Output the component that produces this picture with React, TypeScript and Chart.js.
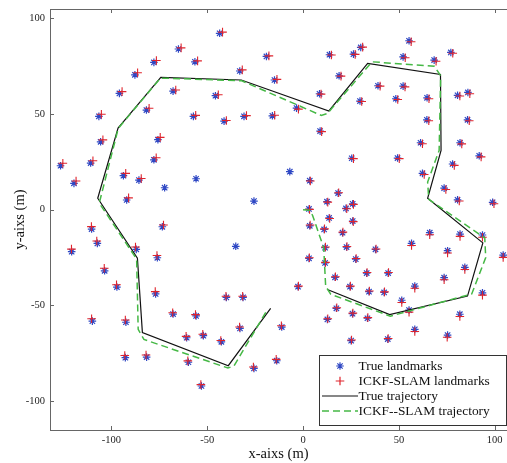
import React, { useEffect, useRef } from "react";
import { Chart, registerables } from "chart.js";

Chart.register(...registerables);

// ---- data ----
const trueLmX = [
  -77.8, -87.7, -95.8, -81.7, -106.5, -75.7, -105.6, -77.8, -126.5, -110.8, -119.5, -93.7, -85.6, -72.2, -92.0, -73.4,
  -43.5, -65.0, -56.4, -19.1, -33.0, -14.9, -67.8, -45.7, -57.2, -41.2, -30.8, -16.0, -55.8, -25.6,
  13.8, 26.3, 30.1, 18.8, 8.6, -3.4, 29.7, 39.1, 48.4, 8.9, 25.4, 49.3, -6.9, 3.5, 18.3, 12.5, 25.9, 3.1, 22.4, 13.6, 25.9,
  55.3, 52.2, 68.4, 77.1, 52.2, 64.7, 80.6, 86.0, 64.6, 85.8, 61.3, 81.9, 91.9, 78.0, 62.3, 73.6, 80.6, 98.9,
  -110.3, -107.3, -120.7, -87.0, -76.0, -103.5, -97.1, -76.9, -109.9, -92.4, -92.7, -81.6,
  -35.1, -40.0, -31.3, -67.8, -55.8, -32.9, -11.1, -60.7, -52.0, -42.6, -59.8, -25.6, -13.7, -53.0,
  3.5, 11.0, 20.6, 11.5, 22.7, 37.8, 3.1, 11.5, 27.5, 33.2, 44.4, 16.7, -2.6, 24.5, 34.4, 42.3, 17.4, 25.8, 12.7, 33.6, 25.1, 44.2,
  66.1, 81.9, 56.6, 93.6, 104.4, 75.4, 84.4, 73.6, 58.3, 51.5, 55.3, 93.6, 81.8, 58.3, 75.4,
];
const trueLmY = [
  77.0, 70.5, 60.8, 52.1, 48.8, 36.6, 35.5, 26.1, 23.0, 24.4, 13.8, 17.8, 15.5, 11.5, 5.1, -8.9,
  92.2, 84.0, 77.3, 80.1, 72.5, 67.8, 62.0, 59.6, 48.8, 46.3, 48.8, 49.1, 16.2, 4.5,
  81.0, 81.3, 84.8, 70.0, 60.6, 53.1, 56.8, 64.8, 58.0, 41.1, 26.9, 27.0, 19.9, 15.2, 8.7, 4.2, 3.1, 0.4, 0.7, -4.3, -5.9,
  88.3, 79.9, 78.2, 82.2, 64.6, 58.5, 59.8, 61.3, 47.0, 47.0, 35.0, 35.0, 28.2, 23.9, 19.0, 11.3, 5.2, 3.9,
  -10.1, -17.6, -21.9, -20.7, -25.1, -31.9, -40.4, -44.0, -58.2, -58.8, -77.3, -77.0,
  -19.1, -45.8, -45.8, -54.5, -55.5, -62.0, -61.3, -66.9, -65.8, -69.0, -79.7, -82.9, -78.9, -92.1,
  -8.4, -10.3, -12.0, -19.8, -19.5, -20.7, -25.4, -27.8, -25.8, -33.1, -33.1, -35.3, -40.2, -40.2, -42.8, -43.2, -51.5, -54.3, -57.3, -56.7, -68.4, -67.6,
  -12.0, -12.7, -17.6, -13.2, -23.7, -21.4, -30.1, -35.5, -39.9, -47.3, -52.4, -43.4, -54.6, -62.5, -65.5,
];
const estLmX = [
  -76.5, -86.3, -94.4, -80.3, -105.2, -74.5, -104.4, -76.6, -125.3, -109.6, -118.4, -92.5, -84.4, -91.0, -72.8,
  -42.0, -63.6, -55.0, -17.8, -31.7, -13.6, -66.4, -44.2, -56.0, -40.0, -29.5, -14.8,
  14.8, 27.2, 31.1, 19.8, 9.4, -2.4, 30.6, 40.2, 49.4, 9.7, 26.3, 50.2, 3.8, 18.6, 12.9, 26.3, 3.4, 22.8, 13.9, 26.2,
  56.4, 53.3, 69.4, 78.1, 53.2, 65.7, 81.8, 87.0, 65.6, 86.7, 62.3, 82.8, 92.9, 78.9, 63.2, 74.5, 81.5, 99.6,
  -110.4, -107.6, -120.8, -87.4, -76.2, -103.7, -97.3, -77.1, -110.3, -92.7, -93.0, -81.9,
  -40.2, -31.5, -68.0, -56.1, -33.1, -11.3, -61.0, -52.3, -42.9, -60.1, -25.9, -14.0, -53.3,
  3.7, 11.2, 20.8, 11.7, 22.9, 38.1, 3.3, 11.7, 27.7, 33.4, 44.6, 16.9, -2.4, 24.7, 34.6, 42.5, 17.6, 26.0, 12.9, 33.8, 25.3, 44.4,
  66.1, 81.9, 56.6, 93.6, 104.4, 75.4, 84.4, 73.6, 58.3, 51.5, 55.3, 93.6, 81.8, 58.3, 75.2,
];
const estLmY = [
  78.0, 71.6, 61.7, 53.0, 49.9, 37.8, 36.5, 27.2, 24.3, 25.6, 15.0, 19.0, 16.3, 6.2, -8.0,
  92.8, 84.6, 77.8, 80.4, 73.1, 68.1, 62.6, 60.1, 49.3, 46.6, 49.2, 49.4,
  80.9, 81.2, 85.0, 69.8, 60.4, 52.6, 56.6, 64.6, 57.6, 40.8, 26.7, 26.7, 15.0, 8.9, 4.0, 2.8, 0.2, 0.5, -4.6, -6.2,
  87.8, 79.4, 77.6, 81.8, 64.2, 58.0, 59.4, 60.6, 46.5, 46.5, 34.5, 34.4, 27.6, 23.2, 18.4, 10.6, 4.6, 3.1,
  -8.8, -16.3, -20.6, -19.5, -23.9, -30.6, -39.2, -42.8, -57.0, -57.6, -76.2, -75.9,
  -45.2, -45.2, -53.8, -54.8, -61.3, -60.6, -66.2, -65.1, -68.3, -79.0, -82.2, -78.2, -91.4,
  -8.0, -10.0, -11.7, -19.5, -19.2, -20.5, -25.1, -27.5, -25.5, -32.8, -32.8, -35.0, -39.9, -39.9, -42.5, -42.9, -51.2, -54.0, -57.0, -56.4, -68.1, -67.3,
  -13.1, -13.9, -18.7, -14.4, -24.9, -22.6, -31.2, -36.6, -41.0, -48.5, -53.5, -44.6, -55.8, -63.6, -66.6,
];
const trueTrajX = [13.0, 45.2, 85.8, 93.8, 65.0, 72.0, 71.7, 33.7, 13.5, -32.2, -74.2, -96.5, -107.1, -86.4, -83.8, -39.0, -16.9];
const trueTrajY = [-41.8, -54.8, -45.1, -17.3, 6.0, 31.0, 70.7, 76.5, 51.6, 67.8, 69.2, 42.7, 6.0, -25.3, -64.2, -81.5, -51.5];
const estTrajX = [0.0, 3.5, 5.0, 10.8, 11.8, 14.5, 45.5, 88.0, 95.3, 94.8, 65.6, 65.0, 71.0, 71.8, 68.5, 36.0, 12.7, 9.5, -32.0, -74.4, -96.4, -106.3, -86.8, -86.0, -83.0, -39.2, -36.0, -19.4];
const estTrajY = [0.0, -0.3, -3.0, -20.0, -40.0, -44.2, -55.6, -44.0, -25.0, -14.8, 5.4, 14.5, 31.0, 70.0, 75.0, 77.3, 50.3, 49.3, 67.4, 68.8, 42.5, 3.5, -25.8, -62.5, -67.8, -82.7, -81.6, -53.5];

const xTicks = [-100, -50, 0, 50, 100];
const yTicks = [-100, -50, 0, 50, 100];
const seriesLabels = ["True landmarks", "ICKF-SLAM landmarks", "True trajectory", "ICKF--SLAM trajectory"];
const xTitle = "x-aixs (m)";
const yTitle = "y-aixs (m)";

const BLUE = "#2f48c4";
const RED = "#e0242c";
const GREEN = "#45b845";
const AXIS = "#666666";
const SERIF = '"Liberation Serif", "DejaVu Serif", serif';

const zip = (xs: number[], ys: number[]) => xs.map((x, i) => ({ x, y: ys[i] }));

function drawStar(ctx: CanvasRenderingContext2D, x: number, y: number, r: number) {
  ctx.beginPath();
  for (let k = 0; k < 4; k++) {
    const a = (k * Math.PI) / 4;
    ctx.moveTo(x - r * Math.cos(a), y - r * Math.sin(a));
    ctx.lineTo(x + r * Math.cos(a), y + r * Math.sin(a));
  }
  ctx.stroke();
}
function drawPlus(ctx: CanvasRenderingContext2D, x: number, y: number, r: number) {
  ctx.beginPath();
  ctx.moveTo(x - r, y);
  ctx.lineTo(x + r, y);
  ctx.moveTo(x, y - r);
  ctx.lineTo(x, y + r);
  ctx.stroke();
}

const framePlugin = {
  id: "matlabFrame",
  afterDatasetsDraw(chart: any) {
    const ctx: CanvasRenderingContext2D = chart.ctx;
    const ds = chart.data.datasets;
    // legend box
    const bx = 319.5, by = 355.5, bw = 187, bh = 70;
    ctx.save();
    ctx.fillStyle = "#ffffff";
    ctx.fillRect(bx, by, bw, bh);
    ctx.strokeStyle = "#333333";
    ctx.lineWidth = 1;
    ctx.strokeRect(bx, by, bw, bh);
    const rows = [366, 381, 396, 411];
    const sx0 = 322, sx1 = 358, sxm = 340;
    ctx.lineWidth = 1.2;
    ctx.strokeStyle = ds[0].borderColor;
    drawStar(ctx, sxm, rows[0], 3.8);
    ctx.strokeStyle = ds[1].borderColor;
    drawPlus(ctx, sxm, rows[1], 4.3);
    ctx.strokeStyle = ds[2].borderColor;
    ctx.lineWidth = ds[2].borderWidth;
    ctx.beginPath();
    ctx.moveTo(sx0, rows[2]);
    ctx.lineTo(sx1, rows[2]);
    ctx.stroke();
    ctx.strokeStyle = ds[3].borderColor;
    ctx.lineWidth = ds[3].borderWidth;
    ctx.setLineDash(ds[3].borderDash);
    ctx.beginPath();
    ctx.moveTo(sx0, rows[3]);
    ctx.lineTo(sx1, rows[3]);
    ctx.stroke();
    ctx.setLineDash([]);
    ctx.fillStyle = "#111111";
    ctx.font = `13.4px ${SERIF}`;
    ctx.textBaseline = "middle";
    ctx.textAlign = "left";
    ds.forEach((d: any, i: number) => ctx.fillText(d.label, 358.5, rows[i] + 0.5));
    ctx.restore();
  },
  afterDraw(chart: any) {
    const ctx: CanvasRenderingContext2D = chart.ctx;
    const { left, right, top, bottom } = chart.chartArea;
    const xs = chart.scales.x;
    const ys = chart.scales.y;
    ctx.save();
    ctx.strokeStyle = AXIS;
    ctx.lineWidth = 1;
    ctx.beginPath();
    ctx.moveTo(Math.round(left) + 0.5, Math.round(top) + 0.5);
    ctx.lineTo(Math.round(left) + 0.5, Math.round(bottom) + 0.5);
    ctx.moveTo(Math.round(left), Math.round(bottom) + 0.5);
    ctx.lineTo(right, Math.round(bottom) + 0.5);
    ctx.moveTo(Math.round(left), Math.round(top) + 0.5);
    ctx.lineTo(right, Math.round(top) + 0.5);
    const tl = 4;
    xTicks.forEach((v) => {
      const px = Math.round(xs.getPixelForValue(v)) + 0.5;
      ctx.moveTo(px, bottom);
      ctx.lineTo(px, bottom - tl);
      ctx.moveTo(px, top);
      ctx.lineTo(px, top + tl);
    });
    yTicks.forEach((v) => {
      const py = Math.round(ys.getPixelForValue(v)) + 0.5;
      ctx.moveTo(left, py);
      ctx.lineTo(left + tl, py);
    });
    ctx.stroke();
    ctx.restore();
  },
};

export default function App() {
  const ref = useRef<HTMLCanvasElement | null>(null);
  useEffect(() => {
    if (!ref.current) return;
    const chart = new Chart(ref.current, {
      type: "scatter",
      data: {
        datasets: [
          {
            label: seriesLabels[0],
            data: zip(trueLmX, trueLmY),
            pointStyle: "star",
            pointRadius: 3.8,
            pointBorderWidth: 1.2,
            borderColor: BLUE,
            backgroundColor: BLUE,
            showLine: false,
            order: 3,
          },
          {
            label: seriesLabels[1],
            data: zip(estLmX, estLmY),
            pointStyle: "cross",
            pointRadius: 4.3,
            pointBorderWidth: 1.1,
            borderColor: RED,
            backgroundColor: RED,
            showLine: false,
            order: 2,
          },
          {
            label: seriesLabels[2],
            data: zip(trueTrajX, trueTrajY),
            showLine: true,
            pointRadius: 0,
            borderColor: "#111111",
            borderWidth: 1.2,
            fill: false,
            tension: 0,
            order: 1,
          },
          {
            label: seriesLabels[3],
            data: zip(estTrajX, estTrajY),
            showLine: true,
            pointRadius: 0,
            borderColor: GREEN,
            borderWidth: 1.5,
            borderDash: [7, 4],
            fill: false,
            tension: 0,
            order: 0,
          },
        ],
      },
      options: {
        animation: false,
        responsive: false,
        devicePixelRatio: 1,
        layout: { autoPadding: false, padding: { top: 9, left: 0, right: 0, bottom: 0 } },
        plugins: { legend: { display: false }, tooltip: { enabled: false } },
        scales: {
          x: {
            type: "linear",
            min: -132.0,
            max: 106.4,
            grid: { display: false, drawTicks: false },
            border: { display: false },
            afterBuildTicks: (s: any) => {
              s.ticks = xTicks.map((v) => ({ value: v }));
            },
            afterFit: (s: any) => {
              s.height = 33;
              s.paddingLeft = 0;
              s.paddingRight = 0;
            },
            ticks: {
              autoSkip: false,
              maxRotation: 0,
              padding: 4,
              color: "#222222",
              font: { family: SERIF, size: 10.5 },
              callback: (v: any) => String(v),
            },
            title: {
              display: true,
              text: xTitle,
              color: "#111111",
              font: { family: SERIF, size: 14.5 },
              padding: { top: 0, bottom: 0 },
            },
          },
          y: {
            type: "linear",
            min: -115.1,
            max: 104.9,
            grid: { display: false, drawTicks: false },
            border: { display: false },
            afterBuildTicks: (s: any) => {
              s.ticks = yTicks.map((v) => ({ value: v }));
            },
            afterFit: (s: any) => {
              s.width = 50;
              s.paddingTop = 0;
              s.paddingBottom = 0;
            },
            ticks: {
              autoSkip: false,
              padding: 5,
              color: "#222222",
              font: { family: SERIF, size: 10.5 },
              callback: (v: any) => String(v),
            },
            title: {
              display: true,
              text: yTitle,
              color: "#111111",
              font: { family: SERIF, size: 14.5 },
              padding: { top: 11, bottom: 0 },
            },
          },
        },
      },
      plugins: [framePlugin],
    });
    return () => chart.destroy();
  }, []);
  return (
    <div style={{ position: "absolute", left: 0, top: 0, width: 507, height: 463, overflow: "hidden", background: "#fff" }}>
      <canvas ref={ref} width={507} height={463} style={{ display: "block", width: 507, height: 463 }} />
    </div>
  );
}
